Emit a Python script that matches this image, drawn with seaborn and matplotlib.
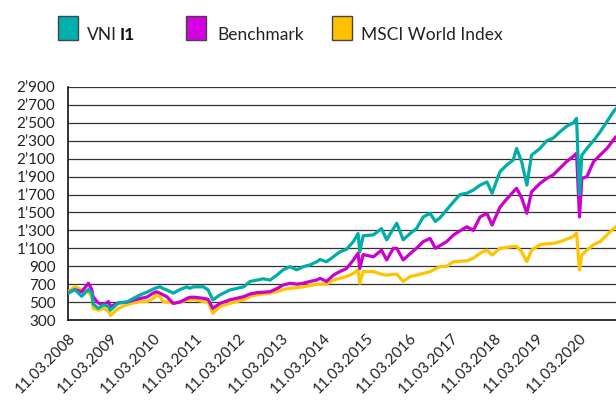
import matplotlib
matplotlib.use("Agg")
import matplotlib.pyplot as plt
from matplotlib.patches import Rectangle
import seaborn as sns
import pandas as pd

dates = [
    "2008-03-11", "2008-05-08", "2008-07-06", "2008-09-02", "2008-10-01", "2008-10-12",
    "2008-11-25", "2009-01-08", "2009-02-21", "2009-03-09", "2009-05-16", "2009-07-28",
    "2009-09-21", "2009-11-18", "2010-01-15", "2010-03-11", "2010-04-09", "2010-05-08",
    "2010-06-06", "2010-07-06", "2010-08-30", "2010-10-27", "2010-12-24", "2011-01-19",
    "2011-02-21", "2011-05-16", "2011-06-25", "2011-08-04", "2011-10-05", "2011-12-28",
    "2012-04-25", "2012-06-18", "2012-08-15", "2012-10-09", "2012-12-07", "2013-02-03",
    "2013-03-29", "2013-05-27", "2013-07-24", "2013-09-17", "2013-11-14", "2014-01-11",
    "2014-02-09", "2014-04-05", "2014-06-02", "2014-07-27", "2014-09-24", "2014-11-21",
    "2014-12-31", "2015-01-15", "2015-02-13", "2015-05-12", "2015-07-20", "2015-09-02",
    "2015-10-30", "2015-11-28", "2016-01-22", "2016-03-21", "2016-05-15", "2016-07-12",
    "2016-09-09", "2016-10-23", "2016-12-02", "2017-01-29", "2017-03-29", "2017-05-23",
    "2017-07-21", "2017-09-14", "2017-11-11", "2018-01-09", "2018-02-22", "2018-05-01",
    "2018-06-28", "2018-08-22", "2018-09-20", "2018-11-03", "2018-12-17", "2019-01-26",
    "2019-04-09", "2019-06-06", "2019-07-31", "2019-09-27", "2019-11-21", "2020-01-18",
    "2020-02-16", "2020-03-12", "2020-04-01", "2020-05-15", "2020-07-10", "2020-09-05",
    "2020-11-03", "2020-12-28", "2021-01-19",
]

vni_i1 = [
    600, 640, 565, 640, 600, 480, 430, 470, 450, 410, 490, 500,
    540, 580, 610, 645, 660, 670, 650, 635, 600, 640, 670, 654,
    670, 670, 635, 525, 580, 635, 670, 730, 745, 760, 745, 800,
    860, 895, 860, 895, 915, 950, 975, 950, 1005, 1060, 1090, 1175,
    1265, 1060, 1240, 1250, 1320, 1195, 1320, 1380, 1195, 1265, 1320, 1450,
    1490, 1400, 1440, 1530, 1620, 1700, 1715, 1750, 1805, 1840, 1715, 1955,
    2030, 2085, 2215, 2065, 1805, 2140, 2215, 2300, 2330, 2400, 2460, 2500,
    2550, 1700, 2140, 2215, 2300, 2400, 2515, 2625, 2660,
]

benchmark = [
    600, 640, 615, 710, 640, 560, 490, 470, 505, 450, 490, 500,
    520, 540, 555, 600, 615, 600, 580, 560, 485, 500, 540, 553,
    555, 542, 530, 430, 486, 525, 560, 590, 605, 610, 616, 650,
    690, 710, 700, 710, 730, 746, 765, 730, 800, 840, 875, 970,
    1045, 875, 1030, 1005, 1080, 970, 1100, 1100, 970, 1040, 1100, 1175,
    1210, 1100, 1130, 1175, 1250, 1295, 1340, 1300, 1450, 1490, 1360, 1560,
    1650, 1730, 1770, 1660, 1490, 1730, 1825, 1880, 1920, 1995, 2065, 2125,
    2160, 1450, 1880, 1900, 2065, 2140, 2215, 2310, 2345,
]

msci_world = [
    615, 670, 640, 610, 560, 430, 410, 430, 400, 350, 430, 470,
    490, 505, 505, 540, 580, 560, 505, 500, 490, 500, 520, 525,
    530, 505, 500, 375, 450, 486, 525, 560, 580, 590, 600, 615,
    640, 654, 660, 670, 685, 700, 700, 700, 745, 765, 785, 820,
    860, 710, 840, 840, 810, 800, 810, 810, 730, 785, 800, 820,
    840, 870, 895, 900, 950, 955, 960, 990, 1045, 1080, 1025, 1100,
    1110, 1120, 1120, 1060, 950, 1080, 1140, 1150, 1155, 1175, 1200, 1230,
    1270, 860, 1025, 1080, 1140, 1175, 1250, 1320, 1340,
]

series_names = ["MSCI World Index", "Benchmark", "VNI I1"]
colors = {"VNI I1": "#00ADA8", "Benchmark": "#CC00CC", "MSCI World Index": "#FFC400"}
legend_colors = ["#00B0AE", "#D400E0", "#FFC000"]

y_ticks = list(range(300, 3000, 200))
x_tick_years = list(range(2008, 2021))

df = pd.concat([
    pd.DataFrame({"date": pd.to_datetime(dates), "value": msci_world, "series": "MSCI World Index"}),
    pd.DataFrame({"date": pd.to_datetime(dates), "value": benchmark, "series": "Benchmark"}),
    pd.DataFrame({"date": pd.to_datetime(dates), "value": vni_i1, "series": "VNI I1"}),
])

sns.set_style("white")
plt.rcParams["font.family"] = ["Lato", "DejaVu Sans"]

fig = plt.figure(figsize=(6.16, 4.12), dpi=100)
ax = fig.add_axes([68 / 616, 1 - 320 / 412, 1 - 68 / 616, (320 - 87) / 412])

sns.lineplot(data=df, x="date", y="value", hue="series", hue_order=series_names,
             palette=colors, linewidth=2.3, ax=ax, legend=False, zorder=3)

ax.set_xlim(pd.Timestamp("2008-03-11"), pd.Timestamp("2021-01-19"))
ax.set_ylim(300, 2900)
ax.set_yticks(y_ticks)
ax.set_yticklabels([f"{v:,}".replace(",", "\u2019") for v in y_ticks], fontsize=11, color="#222222")
ax.yaxis.grid(True, color="#333333", linewidth=0.9)
ax.set_axisbelow(True)

xt = [pd.Timestamp(f"{y}-03-11") for y in x_tick_years]
ax.set_xticks(xt)
ax.set_xticklabels([f"11.03.{y}" for y in x_tick_years], rotation=45, ha="right",
                   rotation_mode="anchor", fontsize=11, color="#222222")
ax.tick_params(axis="both", length=5, width=1, color="#222222", direction="out", pad=3)
ax.tick_params(axis="y", length=5, pad=4)
ax.set_xlabel("")
ax.set_ylabel("")

for s in ["top", "right"]:
    ax.spines[s].set_visible(False)
for s in ["left", "bottom"]:
    ax.spines[s].set_color("#111111")
    ax.spines[s].set_linewidth(1.2)

# legend
labels_x = [58, 186, 332]
for xx, c in zip(labels_x, legend_colors):
    fig.patches.append(Rectangle((xx / 616, 1 - 40 / 412), 20 / 616, 24 / 412,
                                 transform=fig.transFigure, facecolor=c,
                                 edgecolor="#444444", linewidth=1.0))
ty = 1 - 35 / 412
fs = 12.5
fig.text(87 / 616, ty, "VNI", fontsize=fs, va="center", ha="left", color="#222222")
fig.text(120 / 616, ty, "I1", fontsize=fs, va="center", ha="left", color="#111111", fontweight="bold")
fig.text(217 / 616, ty, "Benchmark", fontsize=fs, va="center", ha="left", color="#222222")
fig.text(361 / 616, ty, "MSCI World Index", fontsize=fs, va="center", ha="left", color="#222222")

fig.savefig("out.png", dpi=100)
